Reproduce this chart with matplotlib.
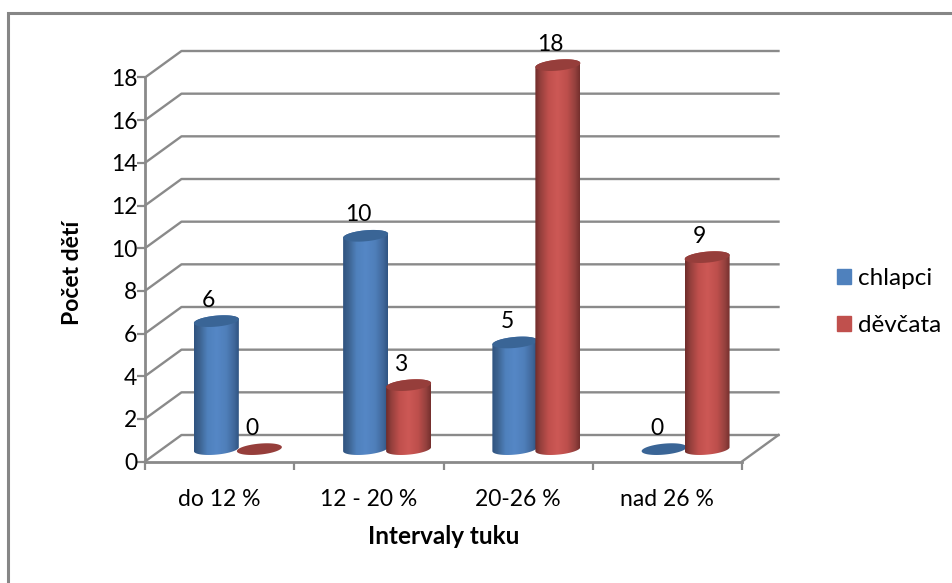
import numpy as np
import matplotlib.pyplot as plt
from matplotlib.patches import Patch, PathPatch
from matplotlib.path import Path
from matplotlib.colors import LinearSegmentedColormap

categories = ['do 12 %', '12 - 20 %', '20-26 %', 'nad 26 %']
chlapci = [6, 10, 5, 0]
devcata = [0, 3, 18, 9]
yticks = [0, 2, 4, 6, 8, 10, 12, 14, 16, 18]

W, H = 953, 583
GRID = '#8a8a8a'
FS = 16.5
plt.rcParams['font.family'] = ['Lato', 'DejaVu Sans']

fig = plt.figure(figsize=(W / 100, H / 100), dpi=100)
# front plane of the 3D box, in pixels
left, right, bottom, top = 145, 742, 461.5, 77.5
ax = fig.add_axes([left / W, 1 - bottom / H, (right - left) / W, (bottom - top) / H])
ax.set_xlim(0, 4)
ax.set_ylim(0, 18)

# depth of the box in data units
sx = (right - left) / 4
sy = (bottom - top) / 18
dx = 36.5 / sx
dy = 26.5 / sy

# walls
for v in yticks:
    ax.plot([0, dx, 4 + dx], [v, v + dy, v + dy], color=GRID, lw=1.7, clip_on=False, zorder=1)
ax.plot([4, 4 + dx], [0, dy], color=GRID, lw=1.7, clip_on=False, zorder=1)

for s in ['top', 'right']:
    ax.spines[s].set_visible(False)
for s in ['left', 'bottom']:
    ax.spines[s].set_color(GRID)
    ax.spines[s].set_linewidth(2)
    ax.spines[s].set_zorder(1)
ax.patch.set_alpha(0)

ax.set_xticks(range(5))
ax.set_xticklabels([])
ax.set_xticks([0.5, 1.5, 2.5, 3.5], categories, minor=True)
ax.tick_params(axis='x', which='major', length=5.5, width=1.6, color=GRID)
ax.tick_params(axis='x', which='minor', length=0, pad=19.5, labelsize=FS)
ax.set_yticks(yticks)
ax.tick_params(axis='y', length=5.5, width=1.6, color=GRID, labelsize=FS, pad=0)
ax.set_xlabel('Intervaly tuku', fontsize=17.5, fontweight='bold', labelpad=11)
ax.set_ylabel('Počet dětí', fontsize=FS, fontweight='bold', labelpad=20, y=0.49)

blue = LinearSegmentedColormap.from_list('b', [(0, '#2f5380'), (0.12, '#3c628f'), (0.3, '#4f81bd'),
                                               (0.5, '#5587c6'), (0.72, '#4f7fba'), (0.9, '#40679a'), (1, '#2f5482')])
red = LinearSegmentedColormap.from_list('r', [(0, '#6f2c2a'), (0.12, '#95403d'), (0.3, '#c0504d'),
                                              (0.5, '#cd5855'), (0.72, '#bd4f4c'), (0.9, '#93403d'), (1, '#742f2d')])
bw = 45 / sx
pitch = 43 / sx
ry = 5.5 / sy
shear = 2 / sy
t = np.linspace(0, 2 * np.pi, 73)
gradient = np.linspace(0, 1, 128).reshape(1, -1)


def ellipse_pts(cx, cy):
    return np.column_stack([cx + bw / 2 * np.cos(t), cy + ry * np.sin(t) + shear * np.cos(t)])


def cylinder(cx, value, cmap, cap, z):
    base = 0.58
    if value > 0:
        top_y = base + value
        low = ellipse_pts(cx, base)
        high = ellipse_pts(cx, top_y)
        # side of the cylinder: lower half of the base, upper arc of the top
        pts = np.vstack([low[36:72], high[:37]])
        clip = PathPatch(Path(np.vstack([pts, pts[0]])), transform=ax.transData, fc='none', ec='none')
        ax.add_patch(clip)
        img = ax.imshow(gradient, cmap=cmap, aspect='auto', zorder=z,
                        extent=[cx - bw / 2, cx + bw / 2, base - 1, top_y + 1])
        img.set_clip_path(clip)
        img.set_clip_box(fig.bbox)
    ax.add_patch(PathPatch(Path(ellipse_pts(cx, base + value)), fc=cap, ec='none', zorder=z + 0.5, clip_on=False))
    ax.annotate(str(value), (cx, base + value), xytext=(-5.5, 7.5), textcoords='offset points',
                ha='center', va='bottom', fontsize=FS, annotation_clip=False, zorder=6)


off = dx / 2
for i in range(4):
    c = i + 0.5 + off
    cylinder(c - pitch / 2, chlapci[i], blue, '#3a6596', 3)
    cylinder(c + pitch / 2, devcata[i], red, '#963e3b', 4)

ax.set_xlim(0, 4)
ax.set_ylim(0, 18)

handles = [Patch(color='#4f81bd', label='chlapci'), Patch(color='#c0504d', label='děvčata')]
fig.legend(handles=handles, loc='upper left', bbox_to_anchor=(832 / W, 1 - 263 / H), frameon=False,
           fontsize=17.5, handlelength=0.58, handleheight=0.58, handletextpad=0.27, labelspacing=1.07,
           borderaxespad=0, borderpad=0.2)

# outer chart border
fig.add_artist(plt.Rectangle((8 / W, 1 - 590 / H), 960 / W, 577 / H, transform=fig.transFigure,
                             fc='none', ec='#868686', lw=2.2))

fig.savefig('out.png', dpi=100)
